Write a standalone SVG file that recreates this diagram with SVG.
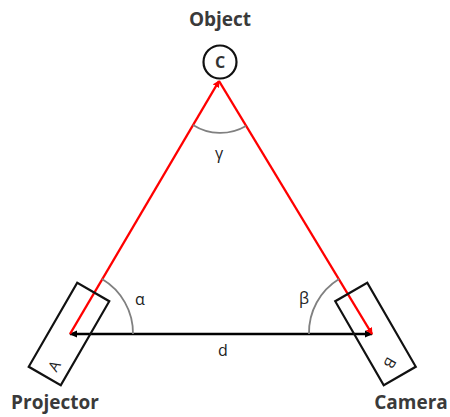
<svg xmlns="http://www.w3.org/2000/svg" width="450" height="417" viewBox="0 0 450 417">
<defs>
<style>
.lbl{font-family:"Open Sans","Noto Sans",sans-serif;font-weight:bold;font-size:19px;fill:#3a3a3a;text-anchor:middle}
.ang{font-family:"Open Sans","DejaVu Sans",sans-serif;font-size:16px;fill:#222;text-anchor:middle}
.box{fill:none;stroke:#111;stroke-width:2.2}
.arc{fill:none;stroke:#808080;stroke-width:1.8}
.red{stroke:#ff0000;stroke-width:2.4;fill:none}
.blk{stroke:#000;stroke-width:2.4;fill:none}
</style>
<marker id="ar" markerWidth="7" markerHeight="7" refX="6" refY="3.5" orient="auto" markerUnits="userSpaceOnUse"><path d="M0,0 L7,3.5 L0,7 Z" fill="#ff0000"/></marker>
<marker id="ab" markerWidth="8" markerHeight="8" refX="7" refY="4" orient="auto-start-reverse" markerUnits="userSpaceOnUse"><path d="M0,0.5 L8,4 L0,7.5 Z" fill="#000"/></marker>
</defs>
<g id="connectors">
<line class="blk" x1="70" y1="334" x2="372" y2="334" marker-start="url(#ab)" marker-end="url(#ab)"/>
<line class="red" x1="70" y1="334" x2="219" y2="81" marker-end="url(#ar)"/>
<line class="red" x1="219" y1="81" x2="372" y2="334" marker-end="url(#ar)"/>
<path class="arc" d="M102,279 A63,63 0 0 1 133,334"/>
<path class="arc" d="M309,334 A63,63 0 0 1 339,279"/>
<path class="arc" d="M193,125 A51,51 0 0 0 246,126"/>
<text class="ang" x="140" y="305">α</text>
<text class="ang" x="304" y="304">β</text>
<text class="ang" x="219" y="159">γ</text>
<text class="ang" x="223" y="356">d</text>
</g>
<g id="projector">
<rect class="box" x="-18.5" y="-48.5" width="37" height="97" transform="translate(69,334) rotate(30)"/>
<text class="ang" transform="translate(54,366) rotate(-60)" y="5.5" style="font-size:15px">A</text>
<text class="lbl" x="55" y="409">Projector</text>
</g>
<g id="camera">
<rect class="box" x="-18.5" y="-48.5" width="37" height="97" transform="translate(375.5,334) rotate(-30)"/>
<text class="ang" transform="translate(390,363) rotate(120)" y="5.5" style="font-size:15px">B</text>
<text class="lbl" x="411" y="409">Camera</text>
</g>
<g id="object">
<circle cx="220" cy="62" r="16.5" fill="#fff" stroke="#111" stroke-width="2.2"/>
<text class="ang" x="220" y="68" style="font-size:16px;font-weight:bold;fill:#333">C</text>
<text class="lbl" x="220" y="26">Object</text>
</g>
</svg>
